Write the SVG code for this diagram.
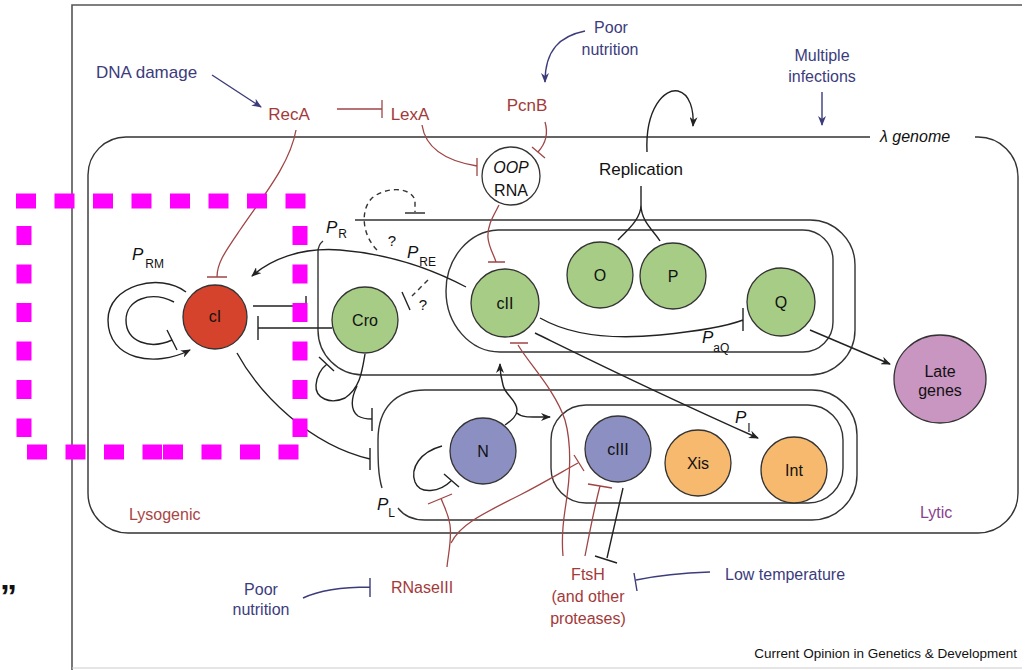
<svg xmlns="http://www.w3.org/2000/svg" width="1030" height="670" viewBox="0 0 1030 670">
<style>
text{font-family:"Liberation Sans",Arial,sans-serif;}
.lbl{font-size:16px;fill:#111;text-anchor:middle;}
.nav{font-size:16px;fill:#3c3c7c;}
.red{font-size:16px;fill:#a33a3a;}
.it{font-style:italic;fill:#111;}
.sub{font-size:12px;fill:#111;font-style:normal;}
.box{fill:none;stroke:#333;stroke-width:1.4;}
.k{fill:none;stroke:#222;stroke-width:1.4;}
.r{fill:none;stroke:#a04545;stroke-width:1.3;}
.n{fill:none;stroke:#3c3c7c;stroke-width:1.4;}
.d{fill:none;stroke:#333;stroke-width:1.4;stroke-dasharray:5 4;}
.node{stroke:#333;stroke-width:1.3;}
.mg{fill:none;stroke:#ff00ff;stroke-width:15;}
</style>
<defs>
<marker id="ak" markerWidth="10" markerHeight="8" refX="9" refY="4" orient="auto" markerUnits="userSpaceOnUse"><path d="M0,0 L10,4 L0,8 L3,4 Z" fill="#222"/></marker>
<marker id="an" markerWidth="10" markerHeight="8" refX="9" refY="4" orient="auto" markerUnits="userSpaceOnUse"><path d="M0,0 L10,4 L0,8 L3,4 Z" fill="#3c3c7c"/></marker>
</defs>
<rect width="1030" height="670" fill="#fff"/>
<!-- frame -->
<g id="frame">
<path d="M72,670 V5 H1022" fill="none" stroke="#555" stroke-width="1.6"/>
<path d="M72,668 H1022" fill="none" stroke="#ccc" stroke-width="1.2"/>
</g>
<!-- genome box -->
<g id="genome">
<path class="box" d="M870,137 H126 A38,38 0 0 0 88,175 V493 A40,40 0 0 0 128,533 H978 A40,40 0 0 0 1018,493 V177 A40,40 0 0 0 978,137 H975"/>
<text x="880" y="142" style="font-size:16px;font-style:italic;fill:#111">λ genome</text>
<text x="129" y="520" style="font-size:16px;fill:#a84545">Lysogenic</text>
<text x="920" y="518" style="font-size:16px;fill:#8b3f8b">Lytic</text>
</g>
<!-- operon boxes -->
<g id="operons">
<path class="box" d="M355,220 H810 A45,45 0 0 1 855,265 V330 A45,45 0 0 1 810,375 H363 A45,45 0 0 1 318,330 V252 Q318,245 323,241"/>
<path class="box" d="M498,230 H803 A30,30 0 0 1 833,260 V322 A30,30 0 0 1 803,352 H500 A54,61 0 0 1 446,291 A54,61 0 0 1 498,230 Z"/>
<path class="box" d="M382,488 C378,475 378,460 378,440 C378,408 396,390 425,390 H812 A45,45 0 0 1 857,435 V475 A45,45 0 0 1 812,520 H425 C412,520 404,516 398,508"/>
<path class="box" d="M586,405 H808 A35,35 0 0 1 843,440 V468 A35,35 0 0 1 808,503 H586 A35,35 0 0 1 551,468 V440 A35,35 0 0 1 586,405 Z"/>
</g>
<!-- connectors -->
<g id="connectors">
<!-- black -->
<path class="k" d="M466,287 C430,268 390,254 340,250 C300,247 270,260 252,276" marker-end="url(#ak)"/>
<path class="k" d="M253,306 H306 M306,296 V317"/>
<path class="k" d="M332,328 H258 M258,316 V340"/>
<path class="k" d="M186,292 C160,272 108,285 108,320 C108,360 155,368 190,350" marker-end="url(#ak)"/>
<path class="k" d="M174,302 C150,290 126,300 126,320 C126,342 150,350 172,340 M167,330 L177,350"/>
<path class="k" d="M237,353 C260,395 310,445 370,459 M370,448 V470"/>
<path class="k" d="M365,354 C362,372 360,388 345,398 C330,405 315,398 316,385 C317,375 322,368 327,364 M319,357 L334,371"/>
<path class="k" d="M357,386 C351,398 350,410 358,416 C363,419 367,419 372,419 M372,408 V431"/>
<path class="k" d="M540,318 C570,335 610,340 660,335 C700,331 730,325 743,320 M743,308 V331"/>
<path class="k" d="M535,333 C580,355 650,390 758,438" marker-end="url(#ak)"/>
<path class="k" d="M810,330 L890,364" marker-end="url(#ak)"/>
<path class="k" d="M647,152 C645,108 665,88 678,91 C690,94 694,110 693,126" marker-end="url(#ak)"/>
<path class="k" d="M641,186 V205 C641,220 625,232 618,240 M641,205 C641,222 655,232 660,241"/>
<path class="k" d="M505,425 C512,420 517,416 517,410 C517,400 505,395 503,385 C501,378 500,372 500,364" marker-end="url(#ak)"/>
<path class="k" d="M517,413 C522,418 530,417 550,417" marker-end="url(#ak)"/>
<path class="k" d="M442,446 C420,452 410,468 415,482 C420,495 440,492 451,481 M444,474 L459,487"/>
<path class="k" d="M623,488 L607,558 M595,556 L617,563"/>
<!-- dashed -->
<path class="d" d="M377,250 C362,235 360,210 372,198 C385,187 410,186 415,200 L415,212"/>
<path class="k" d="M405,213 H425"/>
<path class="d" d="M428,280 L412,296"/>
<path class="k" d="M402,292 L410,310"/>
<!-- red -->
<path class="r" d="M337,109 H382 M382,100 V118"/>
<path class="r" d="M296,130 C290,165 260,200 240,230 C225,252 217,263 217,277 M207,277 H227"/>
<path class="r" d="M422,125 C425,145 440,160 477,166 M477,158 V176"/>
<path class="r" d="M545,122 C548,132 547,142 538,152 M532,147 L545,158"/>
<path class="r" d="M499,205 C494,215 487,225 488,238 C489,248 494,255 496,262 M488,262 H505"/>
<path class="r" d="M447,567 C448,555 452,540 450,525 C448,512 443,505 441,498 M428,504 L452,494"/>
<path class="r" d="M451,543 C460,525 480,515 520,495 C545,482 565,470 578,463 M574,455 L584,471"/>
<path class="r" d="M518,345 C530,365 555,390 565,420 C572,445 570,480 565,510 C562,530 562,545 563,556 M510,343 H528"/>
<path class="r" d="M585,556 C590,530 595,505 600,486 M588,484 L612,488"/>
<!-- navy -->
<path class="n" d="M212,75 L261,107" marker-end="url(#an)"/>
<path class="n" d="M585,31 C560,36 545,50 545,82" marker-end="url(#an)"/>
<path class="n" d="M822,92 V125" marker-end="url(#an)"/>
<path class="n" d="M710,572 C680,573 660,575 636,580 M634,573 L637,591"/>
<path class="n" d="M303,598 C320,590 340,587 370,587 M370,578 V597"/>
</g>
<!-- nodes -->
<g id="node-cI"><circle class="node" cx="215" cy="317" r="32" fill="#d5432c"/><text class="lbl" x="215" y="322">cI</text></g>
<g id="node-Cro"><circle class="node" cx="365" cy="320" r="33" fill="#a6cc85"/><text class="lbl" x="365" y="326">Cro</text></g>
<g id="node-cII"><circle class="node" cx="505" cy="303" r="34" fill="#a6cc85"/><text class="lbl" x="505" y="309">cII</text></g>
<g id="node-O"><circle class="node" cx="600" cy="275" r="33" fill="#a6cc85"/><text class="lbl" x="600" y="281">O</text></g>
<g id="node-P"><circle class="node" cx="673" cy="276" r="33" fill="#a6cc85"/><text class="lbl" x="673" y="282">P</text></g>
<g id="node-Q"><circle class="node" cx="781" cy="302" r="34" fill="#a6cc85"/><text class="lbl" x="781" y="308">Q</text></g>
<g id="node-Late"><ellipse class="node" cx="940" cy="379" rx="46" ry="44" fill="#c995c1"/><text class="lbl" x="940" y="377">Late</text><text class="lbl" x="940" y="396">genes</text></g>
<g id="node-N"><circle class="node" cx="483" cy="451" r="33" fill="#8c8fc1"/><text class="lbl" x="483" y="457">N</text></g>
<g id="node-cIII"><circle class="node" cx="618" cy="449" r="33" fill="#8c8fc1"/><text class="lbl" x="618" y="455">cIII</text></g>
<g id="node-Xis"><circle class="node" cx="698" cy="463" r="33" fill="#f7b96e"/><text class="lbl" x="698" y="469">Xis</text></g>
<g id="node-Int"><circle class="node" cx="794" cy="470" r="33" fill="#f7b96e"/><text class="lbl" x="794" y="476">Int</text></g>
<g id="node-OOP"><circle class="node" cx="511" cy="176" r="29" fill="#fff"/><text class="lbl" x="511" y="173" style="font-style:italic">OOP</text><text class="lbl" x="511" y="196">RNA</text></g>
<!-- labels -->
<g id="labels">
<text class="nav" x="96" y="78" style="font-size:17px">DNA damage</text>
<text class="red" x="289" y="120" text-anchor="middle" style="font-size:17px">RecA</text>
<text class="red" x="410" y="120" text-anchor="middle" style="font-size:17px">LexA</text>
<text class="red" x="527" y="111" text-anchor="middle" style="font-size:17px">PcnB</text>
<text class="nav" x="611" y="33" text-anchor="middle">Poor</text>
<text class="nav" x="610" y="55" text-anchor="middle">nutrition</text>
<text class="nav" x="822" y="61" text-anchor="middle">Multiple</text>
<text class="nav" x="822" y="82" text-anchor="middle">infections</text>
<text x="641" y="175" text-anchor="middle" style="font-size:17px;fill:#111">Replication</text>
<text class="nav" x="261" y="595" text-anchor="middle">Poor</text>
<text class="nav" x="261" y="615" text-anchor="middle">nutrition</text>
<text class="red" x="422" y="593" text-anchor="middle">RNaseIII</text>
<text class="red" x="588" y="580" text-anchor="middle">FtsH</text>
<text class="red" x="588" y="602" text-anchor="middle">(and other</text>
<text class="red" x="588" y="624" text-anchor="middle">proteases)</text>
<text class="nav" x="725" y="580">Low temperature</text>
<text x="1017" y="658" text-anchor="end" style="font-size:13.5px;fill:#111">Current Opinion in Genetics &amp; Development</text>
<text x="392" y="246" text-anchor="middle" style="font-size:15px;fill:#111">?</text>
<text x="423" y="310" text-anchor="middle" style="font-size:15px;fill:#111">?</text>
<text class="it" x="326" y="233" style="font-size:17px">P<tspan class="sub" dx="1" dy="5">R</tspan></text>
<text class="it" x="407" y="258" style="font-size:17px">P<tspan class="sub" dx="1" dy="8">RE</tspan></text>
<text class="it" x="132" y="260" style="font-size:17px">P<tspan class="sub" dx="2" dy="8">RM</tspan></text>
<text class="it" x="702" y="343" style="font-size:17px">P<tspan class="sub" dx="0" dy="9">aQ</tspan></text>
<text class="it" x="735" y="423" style="font-size:17px">P<tspan class="sub" dx="1" dy="9">I</tspan></text>
<text class="it" x="377" y="510" style="font-size:17px">P<tspan class="sub" dx="0" dy="7">L</tspan></text>
<text x="0" y="608" style="font-size:34px;font-weight:bold;fill:#111">”</text>
</g>
<!-- highlight -->
<g id="highlight">
<path class="mg" d="M16,201 H306" stroke-dasharray="20 18.5"/>
<path class="mg" d="M24,226 V437" stroke-dasharray="19 19.5"/>
<path class="mg" d="M300,226 V437" stroke-dasharray="19 19.5"/>
<path class="mg" d="M27,452 H162" stroke-dasharray="20 18.5"/>
<path class="mg" d="M163,452 H300" stroke-dasharray="20 18.5"/>
</g>
</svg>
